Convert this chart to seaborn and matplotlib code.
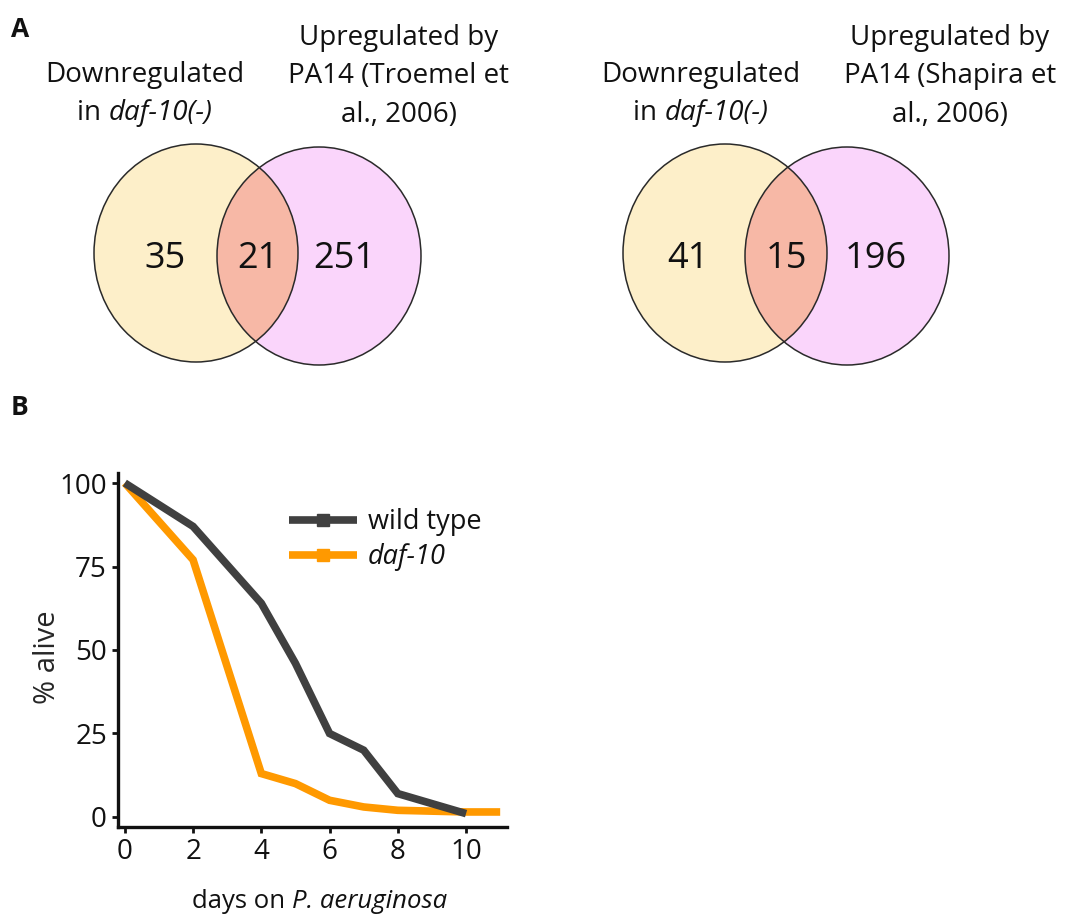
import numpy as np
import pandas as pd
import matplotlib
matplotlib.use("Agg")
import matplotlib.pyplot as plt
import seaborn as sns
from matplotlib.patches import Ellipse
from matplotlib.lines import Line2D

# ---------------- data ----------------
venn1_counts = [35, 21, 251]
venn2_counts = [41, 15, 196]
venn_left_label = ["Downregulated", ("in ", "daf-10(-)")]
venn1_right_label = ["Upregulated by", "PA14 (Troemel et", "al., 2006)"]
venn2_right_label = ["Upregulated by", "PA14 (Shapira et", "al., 2006)"]

days_wt = [0, 2, 4, 5, 6, 7, 8, 10]
alive_wt = [100, 87, 64, 46, 25, 20, 7, 1]
days_daf = [0, 2, 4, 5, 6, 7, 8, 10, 11]
alive_daf = [100, 77, 13, 10, 5, 3, 2, 1.5, 1.5]
series_names = ["wild type", "daf-10"]
x_ticks = [0, 2, 4, 6, 8, 10]
y_ticks = [0, 25, 50, 75, 100]

# ---------------- style ----------------
sns.set_style("ticks")
plt.rcParams["font.family"] = ["Open Sans", "DejaVu Sans"]
plt.rcParams["text.color"] = "#111111"

W, H = 1081, 916
fig = plt.figure(figsize=(W / 100, H / 100), dpi=100)

# overlay axes in pixel coordinates (for Venn diagrams and annotation text)
ov = fig.add_axes([0, 0, 1, 1])
ov.set_xlim(0, W)
ov.set_ylim(H, 0)
ov.axis("off")
ov.set_zorder(0)

renderer = fig.canvas.get_renderer()


def mixed_line(ax, xc, yb, parts, size, styles):
    texts = []
    for p, st in zip(parts, styles):
        t = ax.text(0, yb, p, fontsize=size, style=st, ha="left", va="baseline")
        texts.append(t)
    widths = [t.get_window_extent(renderer).width for t in texts]
    total = sum(widths)
    x = xc - total / 2
    for t, w in zip(texts, widths):
        t.set_x(x)
        x += w


LEFT_C = "#FDEFC9"
RIGHT_C = "#FAD5FB"
MID_C = "#F7B8A6"
EDGE = "#2a2a2a"
LAB_FS = 20


def venn(ax, cl, cr, rx, ry, counts, num_pos, left_lab_x, right_lab_x, right_lab):
    e1 = Ellipse(cl, 2 * rx, 2 * ry, facecolor=LEFT_C, edgecolor="none", zorder=1)
    e2 = Ellipse(cr, 2 * rx, 2 * ry, facecolor=RIGHT_C, edgecolor="none", zorder=1)
    ax.add_patch(e1)
    ax.add_patch(e2)
    mid = Ellipse(cl, 2 * rx, 2 * ry, facecolor=MID_C, edgecolor="none", zorder=2)
    ax.add_patch(mid)
    mid.set_clip_path(e2)
    for c in (cl, cr):
        ax.add_patch(Ellipse(c, 2 * rx, 2 * ry, facecolor="none",
                             edgecolor=EDGE, lw=1.1, zorder=3))
    for v, x in zip(counts, num_pos):
        ax.text(x, 268, str(v), fontsize=26, ha="center", va="baseline", zorder=4)
    ax.text(left_lab_x, 82, venn_left_label[0], fontsize=LAB_FS, ha="center", va="baseline")
    mixed_line(ax, left_lab_x, 120, venn_left_label[1], LAB_FS, ["normal", "italic"])
    for yb, line in zip([45, 83, 122], right_lab):
        ax.text(right_lab_x, yb, line, fontsize=LAB_FS, ha="center", va="baseline")


venn(ov, (196, 253), (319, 256), 102, 109, venn1_counts, [165, 258, 344], 145, 399,
     venn1_right_label)
venn(ov, (725, 253), (847, 256), 102, 109, venn2_counts, [688, 786, 876], 701, 950,
     venn2_right_label)

ov.text(11, 37, "A", fontsize=19, fontweight="bold", ha="left", va="baseline")
ov.text(11, 415, "B", fontsize=19, fontweight="bold", ha="left", va="baseline")

# ---------------- survival plot ----------------
ax_l, ax_r, ax_t, ax_b = 118, 507, 473, 827
ax = fig.add_axes([ax_l / W, 1 - ax_b / H, (ax_r - ax_l) / W, (ax_b - ax_t) / H])
ax.set_facecolor("none")

df = pd.DataFrame({
    "day": days_wt + days_daf,
    "alive": alive_wt + alive_daf,
    "strain": [series_names[0]] * len(days_wt) + [series_names[1]] * len(days_daf),
})
palette = {"wild type": "#404040", "daf-10": "#FF9900"}
sns.lineplot(data=df, x="day", y="alive", hue="strain", hue_order=series_names[::-1],
             palette=palette, lw=5.5, ax=ax, legend=False, estimator=None, sort=False)
for ln in ax.get_lines():
    ln.set_solid_joinstyle("miter")
    ln.set_solid_capstyle("butt")

ax.set_xlim(-0.2, 11.2)
ax.set_ylim(-3, 103)
ax.set_xticks(x_ticks)
ax.set_yticks(y_ticks)
ax.tick_params(labelsize=20, width=2, length=4, colors="#111111", pad=4)
for s in ["top", "right"]:
    ax.spines[s].set_visible(False)
for s in ["left", "bottom"]:
    ax.spines[s].set_linewidth(2.4)
    ax.spines[s].set_color("#111111")
ax.set_xlabel("")
ax.set_ylabel("% alive", fontsize=21)
ax.yaxis.set_label_coords(-0.145, 0.48)

handles = [Line2D([], [], color=palette[n], lw=5.5, marker="s", markersize=9,
                  markevery=[1], solid_capstyle="butt") for n in series_names]
for h in handles:
    h.set_xdata([0, 0.5, 1])
leg = ax.legend(handles, series_names, loc="upper left", bbox_to_anchor=(0.44, 0.9),
                frameon=False, fontsize=19.5, handlelength=2.5, handletextpad=0.4,
                labelspacing=0.25, borderpad=0, borderaxespad=0)
leg.get_texts()[1].set_style("italic")

mixed_line(ov, 320, 908, ["days on ", "P. aeruginosa"], 18.5, ["normal", "italic"])

fig.savefig("out.png", dpi=100)
